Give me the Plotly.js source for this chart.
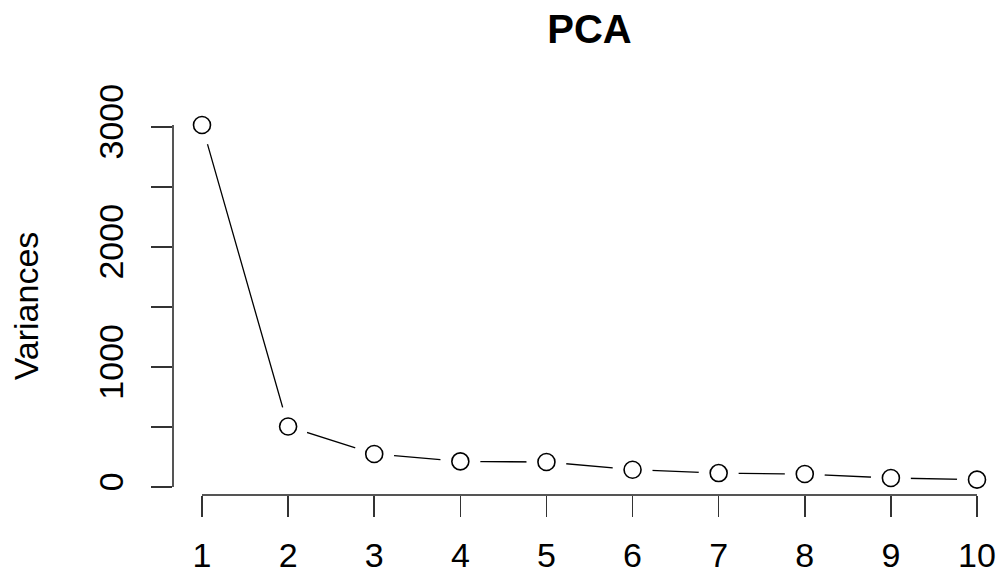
<!DOCTYPE html>
<html>
<head>
<meta charset="utf-8">
<script src="https://cdn.plot.ly/plotly-3.0.1.min.js"></script>
<style>html,body{margin:0;padding:0;background:#fff;}#chart{width:999px;height:576px;}</style>
</head>
<body>
<div id="chart"></div>
<script>
// Data
const components = [1, 2, 3, 4, 5, 6, 7, 8, 9, 10];
const variances = [3015, 504, 275, 213, 208, 144, 116, 108, 75, 61];
const yTickVals = [0, 500, 1000, 1500, 2000, 2500, 3000];
const yTickText = ['0', '', '1000', '', '2000', '', '3000'];
const xTickText = ['1', '2', '3', '4', '5', '6', '7', '8', '9', '10'];

const FONT = 'Liberation Sans, Arial, Helvetica, sans-serif';
const W = 999, H = 576;
// pixel geometry of the R plot: y=0 at 487, y=3000 at 127; x-axis line at 494; y-axis line at 172
const yZeroPx = 487, y3000Px = 127, xAxisPx = 494;
const pxPerUnit = (yZeroPx - y3000Px) / 3000;
const yTop = Math.max(3000, Math.max(...variances));
const topPx = yZeroPx - yTop * pxPerUnit;
const mL = 172, mR = 22, mT = topPx, mB = H - xAxisPx;
const pw = W - mL - mR, ph = H - mT - mB;

const traces = [
  { x: components, y: variances, type: 'scatter', mode: 'lines',
    line: { color: '#000', width: 1.3 }, hoverinfo: 'skip', cliponaxis: false },
  { x: components, y: variances, type: 'scatter', mode: 'markers',
    marker: { color: '#fff', size: 40, line: { width: 0 } }, hoverinfo: 'skip', cliponaxis: false },
  { x: components, y: variances, type: 'scatter', mode: 'markers',
    marker: { symbol: 'circle-open', color: '#000', size: 17, line: { width: 1.6, color: '#000' } },
    hoverinfo: 'skip', cliponaxis: false }
];

const layout = {
  width: W, height: H,
  paper_bgcolor: '#fff', plot_bgcolor: 'rgba(0,0,0,0)',
  showlegend: false,
  margin: { l: mL, r: mR, t: mT, b: mB, pad: 0 },
  font: { family: FONT, size: 34, color: '#000' },
  title: { text: '<b>PCA</b>', font: { family: FONT, size: 40, color: '#000' },
    xref: 'container', x: 589.5 / W, xanchor: 'center',
    yref: 'container', y: 1 - 29 / H, yanchor: 'middle' },
  xaxis: {
    domain: [30 / pw, 1], range: [1, 10], anchor: 'free', position: 0,
    showgrid: false, zeroline: false, showline: true, linecolor: '#555', linewidth: 1.5,
    ticks: 'outside', ticklen: 21, tickwidth: 1.5, tickcolor: '#333',
    tickvals: components, ticktext: xTickText, ticklabelstandoff: 10,
    tickfont: { family: FONT, size: 34, color: '#000' }, layer: 'above traces'
  },
  yaxis: {
    domain: [(xAxisPx - yZeroPx) / ph, 1], range: [0, yTop], anchor: 'free', position: 0,
    showgrid: false, zeroline: false, showline: true, linecolor: '#555', linewidth: 1.5,
    ticks: 'outside', ticklen: 21, tickwidth: 1.5, tickcolor: '#333',
    tickvals: yTickVals, ticktext: yTickText, tickangle: -90, ticklabelstandoff: 14,
    tickfont: { family: FONT, size: 34, color: '#000' }, layer: 'above traces',
    title: { text: 'Variances', font: { family: FONT, size: 34, color: '#000' }, standoff: 42 }
  }
};

Plotly.newPlot('chart', traces, layout, { staticPlot: true, displayModeBar: false });
</script>
</body>
</html>
